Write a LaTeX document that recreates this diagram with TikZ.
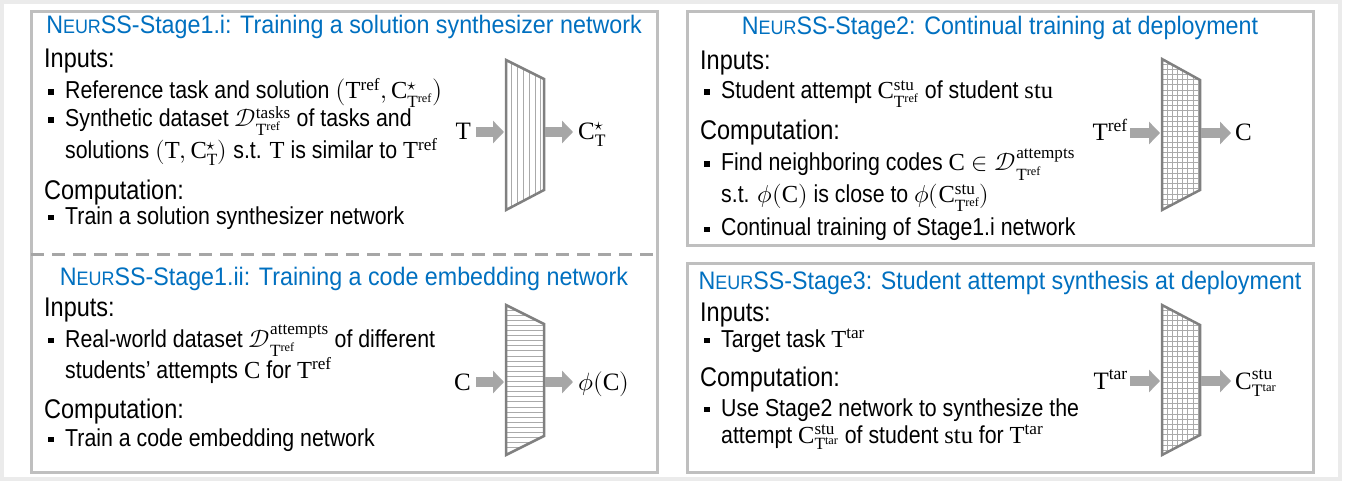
\documentclass[tikz,border=0pt]{standalone}
\usepackage{amsmath}
\usepackage{fontspec}
\usepackage{unicode-math}
\setmathfont{Latin Modern Math}
\setmathrm{Liberation Serif}
\newfontfamily\sansA[FakeStretch=0.92]{Liberation Sans}
\newfontfamily\sansB[FakeStretch=0.87]{Liberation Sans}
\usetikzlibrary{arrows.meta}
\definecolor{tblue}{RGB}{0,112,192}
\definecolor{framegray}{RGB}{191,191,191}
\definecolor{outergray}{RGB}{235,235,235}
\definecolor{arrowgray}{RGB}{166,166,166}
\definecolor{netgray}{RGB}{128,128,128}
\definecolor{hatchgray}{RGB}{170,170,170}
\newcommand\bul{\makebox[17pt][l]{\rule[4pt]{5.5pt}{5.5pt}}}
\newcommand\neurss{N{\fontsize{19.5}{19.5}\selectfont EUR}SS}
\newcommand\Tref{\mathrm{T}^{\mathrm{ref}}}
\newcommand\Ttar{\mathrm{T}^{\mathrm{tar}}}
\begin{document}
\begin{tikzpicture}[x=1pt,y=-1pt,
  titletext/.style={font=\sansA\fontsize{25.3}{25.3}\selectfont, text=tblue, inner sep=0, anchor=base},
  headtext/.style={font=\sansB\fontsize{27}{27}\selectfont, inner sep=0, anchor=base west},
  bodytext/.style={font=\sansB\fontsize{24.5}{24.5}\selectfont, inner sep=0, anchor=base west},
  lab/.style={font=\fontsize{25}{25}\selectfont, inner sep=0},
  panel/.style={draw=framegray, line width=3pt},
  sep/.style={draw=arrowgray, line width=3pt, dash pattern=on 13pt off 8pt},
  net/.style={draw=netgray, line width=2.5pt, line join=miter},
  hatch/.style={draw=hatchgray, line width=0.8pt},
  flow/.style={draw=arrowgray, line width=10pt, -{Triangle[length=11pt,width=22pt]}}]
\useasboundingbox (0,0) rectangle (1346,481);
\fill[white] (0,0) rectangle (1346,481);
\draw[outergray, line width=4pt] (2,2) rectangle (1340,479);

% panels
\draw[panel] (31,12) rectangle (657,472);
\draw[sep] (31,254) -- (657,254);
\draw[panel] (687,12) rectangle (1313,245);
\draw[panel] (687,263) rectangle (1313,472);

% ---------- Stage 1.i ----------
\node[titletext] (t1) at (344,34) {\neurss-Stage1.i: Training a solution synthesizer network};
\node[headtext] (i1) at (44,68) {Inputs:};
\node[bodytext] (b11) at (48,99) {\bul Reference task and solution $\bigl(\Tref,\mathrm{C}^{\star}_{\Tref}\bigr)$};
\node[bodytext] (b12) at (48,127) {\bul Synthetic dataset \smash[b]{$\mathcal{D}^{\mathrm{tasks}}_{\Tref}$} of tasks and};
\node[bodytext] (b12c) at (65,159) {solutions $(\mathrm{T},\mathrm{C}^{\star}_{\mathrm{T}})$ s.t. $\mathrm{T}$ is similar to $\Tref$};
\node[headtext] (c1) at (44,200) {Computation:};
\node[bodytext] (b13) at (48,224) {\bul Train a solution synthesizer network};

\begin{scope}
\clip (506,60) -- (544,79) -- (544,190) -- (506,210) -- cycle;
\foreach \x in {511.8,517.6,...,541} \draw[hatch] (\x,50) -- (\x,220);
\end{scope}
\draw[net] (506,60) -- (544,79) -- (544,190) -- (506,210) -- cycle;
\coordinate (n1in) at (504,132);
\coordinate (n1out) at (545,132);
\node[lab, anchor=base east] (l1a) at (471,140) {$\mathrm{T}$};
\node[lab, anchor=base west] (l1b) at (578,140) {$\mathrm{C}^{\star}_{\mathrm{T}}$};
\draw[flow, shorten <=5pt] (l1a.east |- n1in) -- (n1in);
\draw[flow, shorten >=5pt] (n1out) -- (l1b.west |- n1out);

% ---------- Stage 1.ii ----------
\node[titletext] (t2) at (344,285) {\neurss-Stage1.ii: Training a code embedding network};
\node[headtext] (i2) at (44,316) {Inputs:};
\node[bodytext] (b21) at (48,347) {\bul Real-world dataset \smash[b]{$\mathcal{D}^{\mathrm{attempts}}_{\Tref}$} of different};
\node[bodytext] (b21c) at (65,378) {students’ attempts $\mathrm{C}$ for $\Tref$};
\node[headtext] (c2) at (44,418) {Computation:};
\node[bodytext] (b22) at (48,446) {\bul Train a code embedding network};

\begin{scope}
\clip (506,305) -- (544,324) -- (544,436) -- (506,455) -- cycle;
\foreach \y in {310,315.1,...,452} \draw[hatch] (500,\y) -- (550,\y);
\end{scope}
\draw[net] (506,305) -- (544,324) -- (544,436) -- (506,455) -- cycle;
\coordinate (n2in) at (504,382);
\coordinate (n2out) at (545,382);
\node[lab, anchor=base east] (l2a) at (471,390) {$\mathrm{C}$};
\node[lab, anchor=base west] (l2b) at (578,390) {$\phi(\mathrm{C})$};
\draw[flow, shorten <=5pt] (l2a.east |- n2in) -- (n2in);
\draw[flow, shorten >=5pt] (n2out) -- (l2b.west |- n2out);

% ---------- Stage 2 ----------
\node[titletext] (t3) at (1000,35) {\neurss-Stage2: Continual training at deployment};
\node[headtext] (i3) at (700,70) {Inputs:};
\node[bodytext] (b31) at (704,99) {\bul Student attempt $\mathrm{C}^{\mathrm{stu}}_{\Tref}$ of student $\mathrm{stu}$};
\node[headtext] (c3) at (700,140) {Computation:};
\node[bodytext] (b32) at (704,171) {\bul Find neighboring codes \smash[b]{$\mathrm{C}\in\mathcal{D}^{\mathrm{attempts}}_{\Tref}$}};
\node[bodytext] (b32c) at (721,203) {s.t. $\phi(\mathrm{C})$ is close to \smash[b]{$\phi(\mathrm{C}^{\mathrm{stu}}_{\Tref})$}};
\node[bodytext] (b33) at (704,236) {\bul Continual training of Stage1.i network};

\begin{scope}
\clip (1162,59) -- (1200,80) -- (1200,190) -- (1162,210) -- cycle;
\foreach \x in {1167,1172.2,...,1199} \draw[hatch] (\x,50) -- (\x,220);
\foreach \y in {64,69.2,...,208} \draw[hatch] (1155,\y) -- (1205,\y);
\end{scope}
\draw[net] (1162,59) -- (1200,80) -- (1200,190) -- (1162,210) -- cycle;
\coordinate (n3in) at (1160,133);
\coordinate (n3out) at (1201,133);
\node[lab, anchor=base east] (l3a) at (1128,141) {$\Tref$};
\node[lab, anchor=base west] (l3b) at (1235,141) {$\mathrm{C}$};
\draw[flow, shorten <=2pt] (l3a.east |- n3in) -- (n3in);
\draw[flow, shorten >=4pt] (n3out) -- (l3b.west |- n3out);

% ---------- Stage 3 ----------
\node[titletext] (t4) at (1000,289) {\neurss-Stage3: Student attempt synthesis at deployment};
\node[headtext] (i4) at (700,321) {Inputs:};
\node[bodytext] (b41) at (704,347) {\bul Target task $\Ttar$};
\node[headtext] (c4) at (700,386) {Computation:};
\node[bodytext] (b42) at (704,416) {\bul Use Stage2 network to synthesize the};
\node[bodytext] (b42c) at (721,443) {attempt $\mathrm{C}^{\mathrm{stu}}_{\Ttar}$ of student $\mathrm{stu}$ for $\Ttar$};

\begin{scope}
\clip (1162,305) -- (1200,325) -- (1200,435) -- (1162,455) -- cycle;
\foreach \x in {1167,1172.2,...,1199} \draw[hatch] (\x,295) -- (\x,465);
\foreach \y in {310,315.2,...,453} \draw[hatch] (1155,\y) -- (1205,\y);
\end{scope}
\draw[net] (1162,305) -- (1200,325) -- (1200,435) -- (1162,455) -- cycle;
\coordinate (n4in) at (1160,381);
\coordinate (n4out) at (1201,381);
\node[lab, anchor=base east] (l4a) at (1128,389) {$\Ttar$};
\node[lab, anchor=base west] (l4b) at (1235,389) {$\mathrm{C}^{\mathrm{stu}}_{\Ttar}$};
\draw[flow, shorten <=2pt] (l4a.east |- n4in) -- (n4in);
\draw[flow, shorten >=4pt] (n4out) -- (l4b.west |- n4out);
\end{tikzpicture}
\end{document}
